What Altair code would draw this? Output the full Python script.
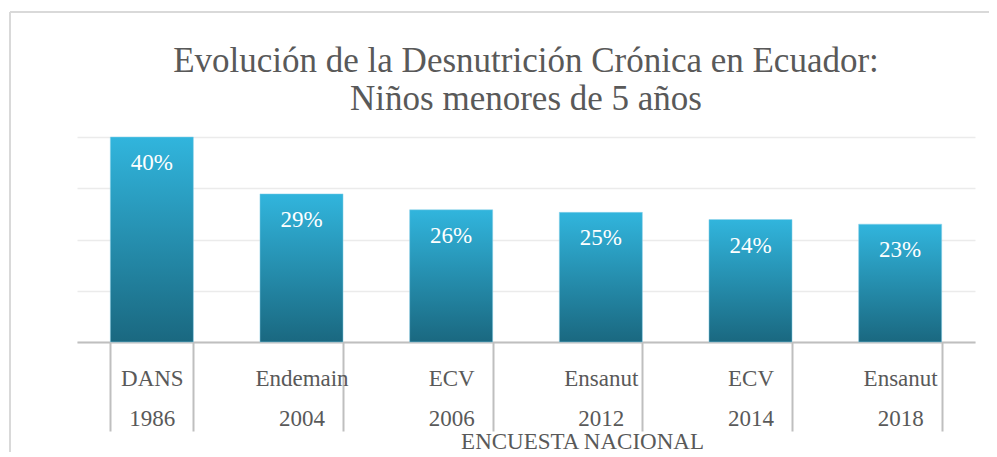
import altair as alt
import pandas as pd

encuestas = ["DANS", "Endemain", "ECV", "Ensanut", "ECV", "Ensanut"]
anios = ["1986", "2004", "2006", "2012", "2014", "2018"]
valores = [40.0, 28.9, 25.8, 25.3, 23.9, 23.0]
etiquetas = ["40%", "29%", "26%", "25%", "24%", "23%"]

df = pd.DataFrame({
    "cat": [f"{e}|{a}" for e, a in zip(encuestas, anios)],
    "valor": valores,
    "etiqueta": etiquetas,
})
orden = list(df["cat"])

FONT = "Liberation Serif"
GREY = "#595959"

x_enc = alt.X(
    "cat:N",
    sort=orden,
    scale=alt.Scale(paddingInner=0.445, paddingOuter=0.2225),
    axis=alt.Axis(
        title="ENCUESTA NACIONAL",
        titleFont=FONT, titleFontSize=23, titleFontWeight="normal", titleColor=GREY,
        titleX=505, titleY=99, titleBaseline="middle", titleAlign="center",
        labelExpr="isValid(datum.value) ? split(datum.value, '|') : ''",
        labelFont=FONT, labelFontSize=23, labelColor=GREY, labelAngle=0,
        labelLineHeight=40, labelBaseline="top", labelPadding=-64,
        tickBand="extent", tickSize=89, tickColor="#bfbfbf", tickWidth=2,
        domainColor="#bfbfbf", domainWidth=2, grid=False,
    ),
)
y_enc = alt.Y(
    "valor:Q",
    scale=alt.Scale(domain=[0, 40], nice=False),
    axis=alt.Axis(
        values=[0, 10, 20, 30, 40], labels=False, ticks=False, domain=False,
        title=None, grid=True, gridColor="#ebebeb", gridWidth=1.5,
    ),
)

bars = alt.Chart(df).mark_bar(
    color=alt.Gradient(
        gradient="linear", x1=0, x2=0, y1=0, y2=1,
        stops=[alt.GradientStop(offset=0, color="#31b5dd"),
               alt.GradientStop(offset=1, color="#1a6880")],
    ),
    stroke="#8fd3ea", strokeWidth=0.5,
).encode(x=x_enc, y=y_enc)

labels = alt.Chart(df).mark_text(
    font=FONT, fontSize=23, color="white", baseline="middle", dy=26,
).encode(x=alt.X("cat:N", sort=orden), y="valor:Q", text="etiqueta:N")

border_top = alt.Chart(df).mark_rule(color="#d9d9d9", strokeWidth=2).encode(
    x=alt.value(-67), x2=alt.value(925), y=alt.value(-125)
)
border_left = alt.Chart(df).mark_rule(color="#d9d9d9", strokeWidth=2).encode(
    x=alt.value(-67), y=alt.value(-125), y2=alt.value(320)
)

chart = alt.layer(border_top, border_left, bars, labels).properties(
    width=898,
    height=205,
    autosize=alt.AutoSizeParams(type="none"),
    padding={"left": 69, "top": 129, "right": 14, "bottom": 110},
    view=alt.ViewBackground(strokeWidth=0, strokeOpacity=0),
    title=alt.TitleParams(
        text=["Evolución de la Desnutrición Crónica en Ecuador:", "Niños menores de 5 años"],
        font=FONT, fontSize=35, fontWeight="normal", color=GREY,
        lineHeight=38, anchor="middle", offset=-106,
    ),
).configure_view(strokeWidth=0, strokeOpacity=0, stroke="transparent").configure(background="white")

chart.save("out.html", embed_options={"renderer": "svg", "actions": False})
